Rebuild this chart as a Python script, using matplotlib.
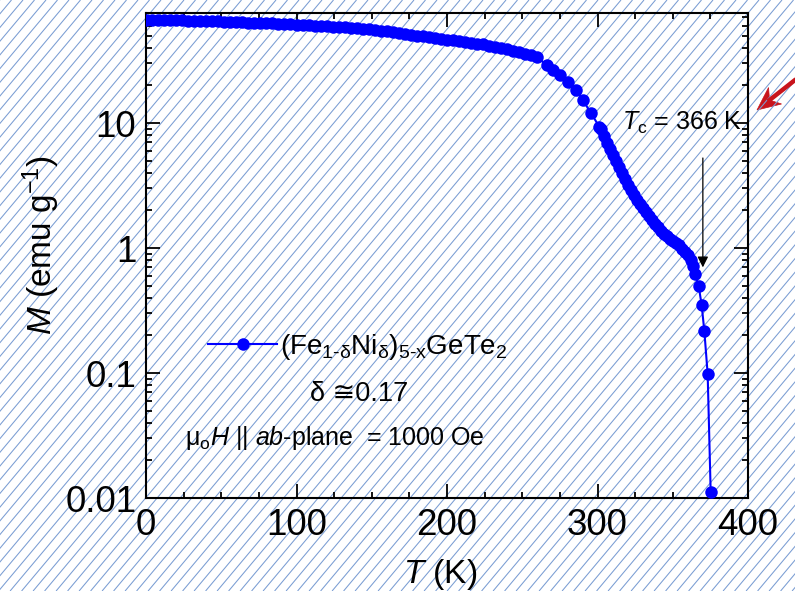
import numpy as np
import matplotlib
matplotlib.use("Agg")
import matplotlib.pyplot as plt
from matplotlib.collections import LineCollection
from matplotlib.ticker import FixedLocator, FixedFormatter, LogLocator, MultipleLocator, NullFormatter
from matplotlib.patches import Polygon

plt.rcParams['font.family'] = ['Liberation Sans', 'DejaVu Sans']
plt.rcParams['mathtext.fontset'] = 'custom'
plt.rcParams['mathtext.rm'] = 'Liberation Sans'
plt.rcParams['mathtext.it'] = 'Liberation Sans:italic'
plt.rcParams['mathtext.bf'] = 'Liberation Sans:bold'

# Magnetisation vs temperature, (Fe1-dNid)5-xGeTe2, H || ab, 1000 Oe
temperature_K = [
    0, 4, 8, 12, 16, 20, 24, 28, 32, 36, 40, 44, 48, 52, 56, 60, 64, 68, 72, 76,
    80, 84, 88, 92, 96, 100, 104, 108, 112, 116, 120, 124, 128, 132, 136, 140,
    144, 148, 152, 156, 160, 164, 168, 172, 176, 180, 184, 188, 192, 196, 200,
    204, 208, 212, 216, 220, 224, 228, 232, 236, 240, 244, 248, 252, 256, 260,
    266.2, 270.6, 275.1, 280.6, 285.5, 290.2, 295.5, 301.2,
    302, 304, 306, 308, 310, 312, 314, 316, 318, 320, 322, 324, 326, 328, 330,
    332, 334, 336, 338, 340, 342, 344, 346, 348, 350, 352, 354, 356, 358, 360,
    362, 363.5,
    364.8, 367.2, 369.2, 371.0, 373.2, 375.2,
]
magnetization_emu_g = [
    67.0, 66.9, 66.8, 66.7, 66.6, 66.5, 66.3, 66.1, 66.0, 65.8, 65.6, 65.4, 65.1,
    64.9, 64.6, 64.3, 64.0, 63.7, 63.5, 63.2, 62.9, 62.6, 62.3, 62.0, 61.7, 61.4,
    61.0, 60.6, 60.2, 59.8, 59.4, 59.0, 58.6, 58.2, 57.8, 57.4, 56.8, 56.1, 55.4,
    54.7, 54.0, 53.2, 52.4, 51.6, 50.8, 50.0, 49.3, 48.6, 47.9, 47.2, 46.5, 45.8,
    45.2, 44.5, 43.9, 43.2, 42.5, 41.7, 40.8, 39.9, 39.0, 37.8, 36.8, 35.8, 34.7,
    33.6,
    29.1, 26.6, 24.2, 21.4, 18.4, 15.3, 12.1, 9.34,
    8.91, 7.85, 6.92, 6.19, 5.56, 4.99, 4.47, 4.00, 3.57, 3.20, 2.90, 2.64, 2.42,
    2.24, 2.08, 1.93, 1.79, 1.67, 1.56, 1.47, 1.38, 1.30, 1.245, 1.19, 1.14, 1.10,
    1.05, 0.99, 0.93, 0.88, 0.80, 0.72,
    0.62, 0.50, 0.35, 0.216, 0.098, 0.0112,
]

y_ticks = [0.01, 0.1, 1, 10]
y_tick_labels = ['0.01', '0.1', '1', '10']
x_ticks = [0, 100, 200, 300, 400]
x_tick_labels = ['0', '100', '200', '300', '400']

series_label = r'$(\mathrm{Fe}_{\text{1-δ}}\mathrm{Ni}_{\mathrm{δ}})_{\text{5-x}}\mathrm{GeTe}_{\mathrm{2}}$'
tc_label = r'$T_{\mathrm{c}}$ = 366 K'
tc_temperature = 370
tc_arrow_from, tc_arrow_to = 5.25, 0.70

W, H = 795, 591
fig = plt.figure(figsize=(W / 100, H / 100), dpi=100)
fig.patch.set_facecolor('white')

# diagonal hatching across the whole canvas (pixel coordinates, y up)
bg = fig.add_axes([0, 0, 1, 1], zorder=0)
bg.set_xlim(0, W)
bg.set_ylim(0, H)
bg.axis('off')
slope = np.tan(np.radians(50))
spacing = 11.5
segs = []
for x0 in np.arange(-H / slope - spacing, W + spacing, spacing):
    segs.append([(x0, 0), (x0 + H / slope, H)])
bg.add_collection(LineCollection(segs, colors='#7a9dd3', linewidths=0.75))

ax = fig.add_axes([146 / W, 1 - 498 / H, 602 / W, 484.7 / H], zorder=1)
ax.set_facecolor('none')

ax.plot(temperature_K, magnetization_emu_g, '-o', color='#0000ff', lw=1.5,
        ms=9, mew=0, label=series_label, zorder=3)

ax.set_yscale('log')
ax.set_xlim(0, 400)
ax.set_ylim(0.01, 75.5)

ax.yaxis.set_major_locator(FixedLocator(y_ticks))
ax.yaxis.set_major_formatter(FixedFormatter(y_tick_labels))
ax.yaxis.set_minor_locator(LogLocator(base=10, subs=np.arange(2, 10)))
ax.yaxis.set_minor_formatter(NullFormatter())
ax.xaxis.set_major_locator(FixedLocator(x_ticks))
ax.xaxis.set_major_formatter(FixedFormatter(x_tick_labels))
ax.xaxis.set_minor_locator(MultipleLocator(25))

for s in ax.spines.values():
    s.set_linewidth(1.5)
ax.tick_params(which='both', direction='in', top=True, right=True, width=1.3,
               labelsize=26.5, pad=7)
ax.tick_params(which='major', length=10)
ax.tick_params(which='minor', length=4.5)

ax.set_xlabel(r'$T$ (K)', fontsize=24)
ax.set_ylabel(r'$M$ (emu g$^{-1}$)', fontsize=24)
ax.xaxis.set_label_coords(0.488, -0.122)
ax.yaxis.set_label_coords(-0.1395, 0.522)

# Curie temperature marker
ax.annotate('', xy=(tc_temperature, tc_arrow_to), xytext=(tc_temperature, tc_arrow_from),
            arrowprops=dict(arrowstyle='-|>', color='black', lw=0.9,
                            mutation_scale=16, shrinkA=0, shrinkB=0))
ax.text(316, 10.1, tc_label, fontsize=18, ha='left', va='center')

leg = ax.legend(loc='center left', bbox_to_anchor=(208 / W, 1 - 347 / H),
                bbox_transform=fig.transFigure, frameon=False, fontsize=20,
                handlelength=2.5, handletextpad=0.1, borderpad=0, borderaxespad=0)
fig.text(359 / W, 1 - 394 / H, 'δ ≅0.17', fontsize=19.5, ha='center', va='center')
fig.text(185 / W, 1 - 438 / H, r'$\mathrm{μ}_{\mathrm{o}}H$ || $ab$-plane  = 1000 Oe',
         fontsize=18, ha='left', va='center')

# red pointer at the right edge: stealth-style head plus a thick shaft
red = '#c8141c'
tip = np.array([757.0, H - 110.0])
u = np.array([38.0, 30.0]); u /= np.hypot(*u)      # from tip back along the shaft
n = np.array([-u[1], u[0]])
head_len, half_w, notch = 23.0, 10.5, 16.0
barb1 = tip + head_len * u + half_w * n
barb2 = tip + head_len * u - half_w * n
notch_pt = tip + notch * u
bg.add_patch(Polygon([tip, barb1, notch_pt, barb2], closed=True, facecolor=red,
                     edgecolor=red, lw=0.5))
tail = tip + 70 * u
bg.plot([notch_pt[0] - 2 * u[0], tail[0]], [notch_pt[1] - 2 * u[1], tail[1]],
        color=red, lw=3.2, solid_capstyle='butt')

fig.savefig('out.png', dpi=100)
